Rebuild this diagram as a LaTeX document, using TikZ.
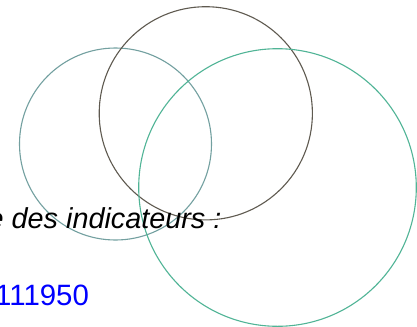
\documentclass[tikz,border=0pt]{standalone}
\usepackage{fontspec}
\setmainfont{Liberation Sans}
\definecolor{ringgray}{RGB}{115,160,160}
\definecolor{ringdark}{RGB}{95,90,80}
\definecolor{ringgreen}{RGB}{80,180,150}
\begin{document}
\begin{tikzpicture}[x=1bp,y=-1bp]
\useasboundingbox (0,0) rectangle (417,327);
\clip (0,0) rectangle (417,327);
\fill[white] (0,0) rectangle (417,327);

\draw[ringgray,line width=1.1bp] (115.5,144) circle[radius=96bp];
\draw[ringdark,line width=1.1bp] (205.8,113.3) circle[radius=106.6bp];
\draw[ringgreen,line width=1.1bp] (277.5,187.5) circle[radius=138.8bp];

\node[anchor=base west,inner sep=0pt,font=\fontsize{28.8bp}{32bp}\selectfont\itshape] (indic) at (-12.5,228.3) {e des indicateurs :};
\node[anchor=base west,inner sep=0pt,text=blue,font=\fontsize{29.4bp}{32bp}\selectfont] (code) at (-5,305) {111950};
\end{tikzpicture}
\end{document}
